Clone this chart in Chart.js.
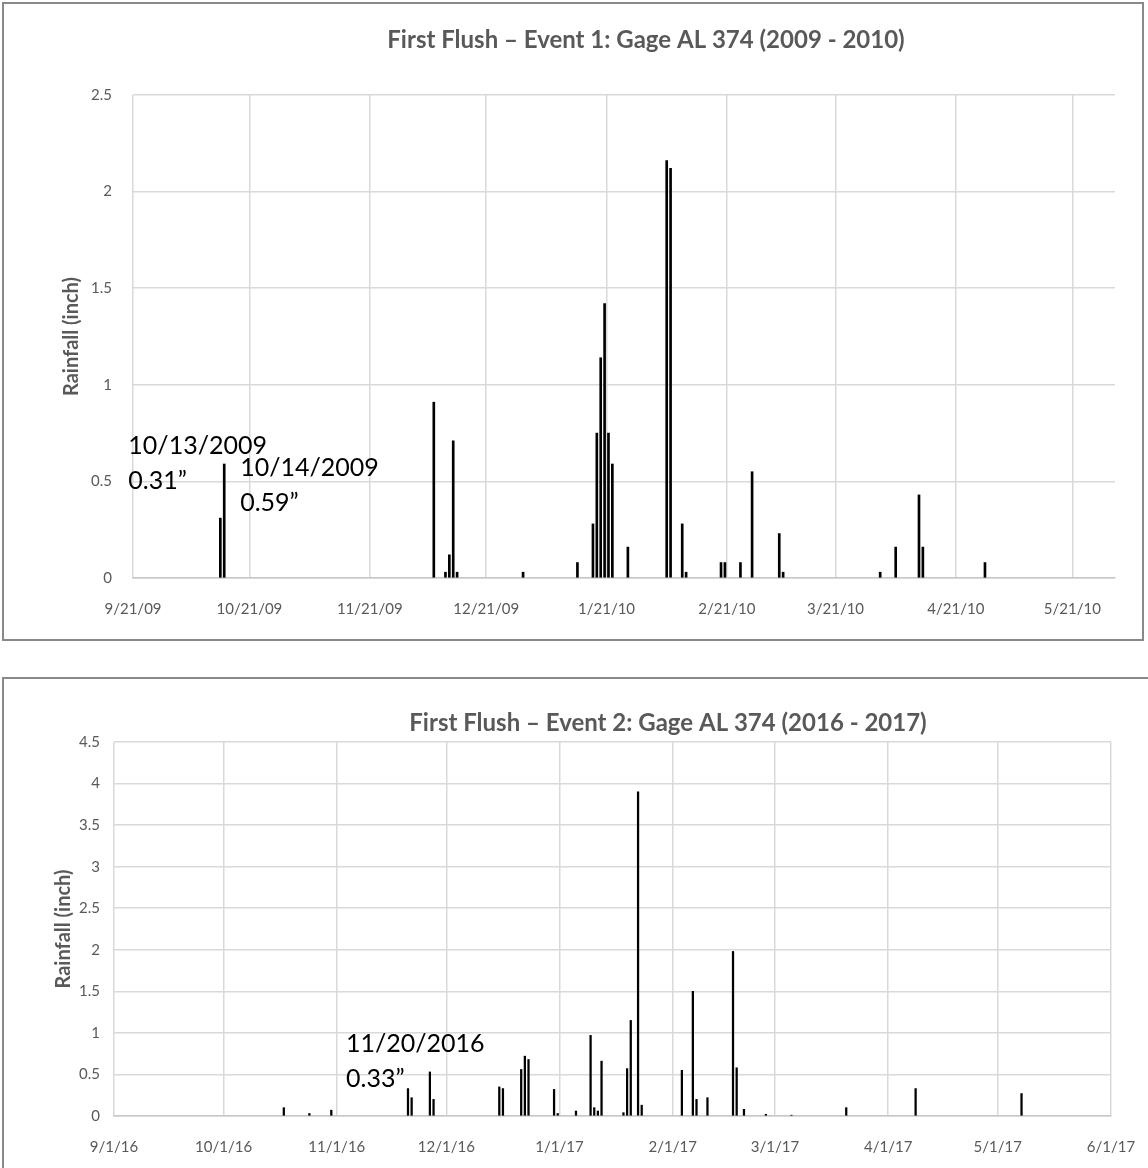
<!DOCTYPE html>
<html><head><meta charset="utf-8">
<script src="https://cdn.jsdelivr.net/npm/chart.js@4.4.1/dist/chart.umd.min.js"></script>
<style>
html,body{margin:0;padding:0;background:#fff;width:1148px;height:1168px;overflow:hidden;position:relative}
.frame{position:absolute;border:2px solid #898989;box-sizing:border-box}
canvas{position:absolute}
</style></head><body>
<div class="frame" style="left:2px;top:2px;width:1142px;height:639px"></div>
<div class="frame" style="left:2px;top:677px;width:1170px;height:520px"></div>
<canvas id="c1" width="1148" height="645" style="left:0;top:0;width:1148px;height:645px"></canvas>
<canvas id="c2" width="1148" height="500" style="left:0;top:668px;width:1148px;height:500px"></canvas>
<script>
// ---------- Chart 1 data ----------
const title1 = 'First Flush \u2013 Event 1: Gage AL 374 (2009 - 2010)';
const xTickLabels1 = ['9/21/09','10/21/09','11/21/09','12/21/09','1/21/10','2/21/10','3/21/10','4/21/10','5/21/10'];
const xRange1 = ['9/21/09','6/1/10'];
const yTicks1 = [0,0.5,1,1.5,2,2.5];
const dates1 = ['10/13/09','10/14/09','12/7/09','12/10/09','12/11/09','12/12/09','12/13/09','12/30/09',
  '1/13/10','1/17/10','1/18/10','1/19/10','1/20/10','1/21/10','1/22/10','1/26/10',
  '2/5/10','2/6/10','2/9/10','2/10/10','2/19/10','2/20/10','2/24/10','2/27/10',
  '3/6/10','3/7/10','4/1/10','4/5/10','4/11/10','4/12/10','4/28/10'];
const rain1 = [0.31,0.59,0.91,0.03,0.12,0.71,0.03,0.03,
  0.08,0.28,0.75,1.14,1.42,0.75,0.59,0.16,
  2.16,2.12,0.28,0.03,0.08,0.08,0.08,0.55,
  0.23,0.03,0.03,0.16,0.43,0.16,0.08];
const noteDates1 = ['10/13/09','10/14/09'];
const noteText1 = [['10/13/2009','0.31\u201D'],['10/14/2009','0.59\u201D']];

// ---------- Chart 2 data ----------
const title2 = 'First Flush \u2013 Event 2: Gage AL 374 (2016 - 2017)';
const xTickLabels2 = ['9/1/16','10/1/16','11/1/16','12/1/16','1/1/17','2/1/17','3/1/17','4/1/17','5/1/17','6/1/17'];
const xRange2 = ['9/1/16','6/1/17'];
const yTicks2 = [0,0.5,1,1.5,2,2.5,3,3.5,4,4.5];
const dates2 = ['10/17/16','10/24/16','10/30/16','11/20/16','11/21/16','11/26/16','11/27/16',
  '12/15/16','12/16/16','12/21/16','12/22/16','12/23/16','12/30/16','12/31/16',
  '1/5/17','1/9/17','1/10/17','1/11/17','1/12/17','1/18/17','1/19/17','1/20/17','1/22/17','1/23/17',
  '2/3/17','2/6/17','2/7/17','2/10/17','2/17/17','2/18/17','2/20/17','2/26/17',
  '3/5/17','3/20/17','4/8/17','5/7/17'];
const rain2 = [0.10,0.03,0.07,0.33,0.22,0.53,0.20,
  0.35,0.33,0.56,0.72,0.68,0.32,0.03,
  0.06,0.97,0.10,0.06,0.66,0.04,0.57,1.15,3.90,0.13,
  0.55,1.50,0.20,0.22,1.98,0.58,0.08,0.02,
  0.01,0.10,0.33,0.27];
const noteDates2 = ['11/20/16'];
const noteText2 = [['11/20/2016','0.33\u201D']];

const axisTitle = 'Rainfall (inch)';

// ---------- helpers ----------
function toDay(s){const [m,d,y]=s.split('/').map(Number);return Date.UTC(y<100?2000+y:y,m-1,d)/864e5;}
const FONT = "Lato, 'Open Sans', sans-serif";
const GREY = '#595959';

const titlePlugin = {
  id:'fixedTitle',
  afterDraw(chart, args, o){
    const ctx = chart.ctx; ctx.save();
    ctx.font = 'bold 24px ' + FONT; ctx.fillStyle = GREY;
    ctx.textAlign='center'; ctx.textBaseline='middle';
    ctx.fillText(o.text, o.x, o.y); ctx.restore();
  }
};
const notePlugin = {
  id:'notes',
  afterDatasetsDraw(chart, args, o){
    const {ctx, scales:{x,y}} = chart; ctx.save();
    ctx.font = '25px ' + FONT; ctx.fillStyle = '#000';
    ctx.textAlign='left'; ctx.textBaseline='alphabetic';
    o.items.forEach(it=>{
      const idx = o.dates.indexOf(it.date);
      const px = x.getPixelForValue(toDay(it.date)+0.5) + it.dx;
      const py = y.getPixelForValue(o.values[idx]) + it.dy;
      it.lines.forEach((ln,k)=>ctx.fillText(ln, px, py + k*35));
    });
    ctx.restore();
  }
};

function makeChart(id, cfg){
  const pts = cfg.dates.map((d,i)=>({x: toDay(d)+0.5, y: cfg.values[i]}));
  return new Chart(document.getElementById(id), {
    type:'bar',
    data:{datasets:[{data:pts, backgroundColor:'#000', borderWidth:0, barThickness:cfg.barW, grouped:false}]},
    options:{
      responsive:false, animation:false, devicePixelRatio:1,
      layout:{padding:cfg.pad},
      plugins:{legend:{display:false}, tooltip:{enabled:false},
        fixedTitle:{text:cfg.title, x:cfg.titleX, y:cfg.titleY},
        notes:{items:cfg.notes, dates:cfg.dates, values:cfg.values}},
      scales:{
        x:{type:'linear', offset:false, min:toDay(cfg.range[0]), max:toDay(cfg.range[1]),
          afterBuildTicks:s=>{s.ticks = cfg.xTicks.map(l=>({value:toDay(l)}));},
          afterFit:s=>{s.height = cfg.xH; s.paddingLeft = 0; s.paddingRight = 0;},
          grid:{color:'#d9d9d9', lineWidth:1.5, drawTicks:false, offset:false},
          border:{color:'#c8c8c8', width:1.5},
          ticks:{autoSkip:false, maxRotation:0, padding:cfg.xPad, color:GREY, font:{family:FONT,size:15},
            callback:(v,i)=>cfg.xTicks[i]}},
        y:{min:0, max:cfg.yTicks[cfg.yTicks.length-1],
          afterBuildTicks:s=>{s.ticks = cfg.yTicks.map(v=>({value:v}));},
          afterFit:s=>{s.width = cfg.yW; s.paddingTop = 0; s.paddingBottom = 0;},
          grid:{color:'#d9d9d9', lineWidth:1.5, drawTicks:false},
          border:{display:false},
          ticks:{padding:cfg.yPad, color:GREY, font:{family:FONT,size:15}, callback:v=>String(v)},
          title:{display:true, text:axisTitle, color:GREY, padding:0, font:{family:FONT,size:20,weight:'bold'}}}
      }
    },
    plugins:[titlePlugin, notePlugin]
  });
}

makeChart('c1', {
  dates:dates1, values:rain1, range:xRange1, xTicks:xTickLabels1, yTicks:yTicks1, barW:2,
  pad:{left:60, right:33, top:95, bottom:17}, xH:50, yW:73, xPad:22, yPad:21,
  title:title1, titleX:646, titleY:40,
  notes:[{date:noteDates1[0], lines:noteText1[0], dx:-92, dy:-64},
         {date:noteDates1[1], lines:noteText1[1], dx:16, dy:12}]
});
makeChart('c2', {
  dates:dates2, values:rain2, range:xRange2, xTicks:xTickLabels2, yTicks:yTicks2, barW:1.6,
  pad:{left:52, right:37, top:74, bottom:7}, xH:45, yW:62, xPad:22, yPad:14,
  title:title2, titleX:668, titleY:55,
  notes:[{date:noteDates2[0], lines:noteText2[0], dx:-62, dy:-37}]
});
</script>
</body></html>
